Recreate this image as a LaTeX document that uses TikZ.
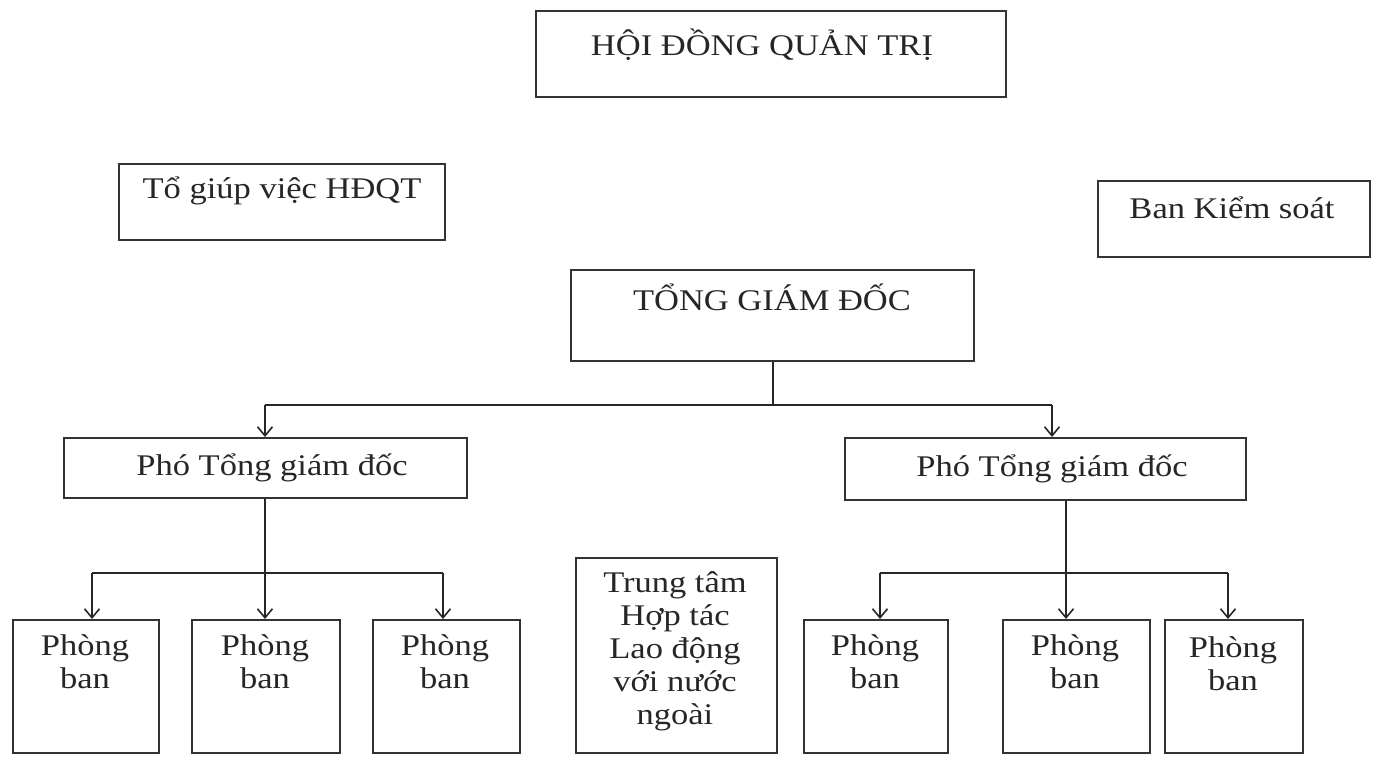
\documentclass[tikz,border=0pt]{standalone}
\usepackage{fontspec}
\setmainfont{Liberation Serif}[FakeStretch=1.15]
\usetikzlibrary{arrows.meta}
\tikzset{
  hop/.style={draw=black!80, line width=2.4pt, anchor=north west, inner sep=0pt},
  chu/.style={inner sep=0pt, font=\fontsize{30}{33}\selectfont, align=center, anchor=base},
  muiten/.style={-{Straight Barb[length=9pt,width=15pt,line width=1.6pt]}}
}
\begin{document}
\begin{tikzpicture}[x=1pt,y=-1pt,line width=2pt,black!85]
\useasboundingbox (0,0) rectangle (1379,758);
%cac hop
  \node[hop,minimum width=470pt,minimum height=86pt] (hdqt) at (535,10) {};
  \node[hop,minimum width=326pt,minimum height=76pt] (togiup) at (118,163) {};
  \node[hop,minimum width=272pt,minimum height=76pt] (bks) at (1097,180) {};
  \node[hop,minimum width=403pt,minimum height=91pt] (tgd) at (570,269) {};
  \node[hop,minimum width=403pt,minimum height=60pt] (ptgd1) at (63,437) {};
  \node[hop,minimum width=401pt,minimum height=62pt] (ptgd2) at (844,437) {};

  \node[hop,minimum width=146pt,minimum height=133pt] (pb1) at (12,619) {};
  \node[hop,minimum width=148pt,minimum height=133pt] (pb2) at (191,619) {};
  \node[hop,minimum width=147pt,minimum height=133pt] (pb3) at (372,619) {};
  \node[hop,minimum width=201pt,minimum height=195pt] (ttld) at (575,557) {};
  \node[hop,minimum width=144pt,minimum height=133pt] (pb4) at (803,619) {};
  \node[hop,minimum width=147pt,minimum height=133pt] (pb5) at (1002,619) {};
  \node[hop,minimum width=138pt,minimum height=133pt] (pb6) at (1164,619) {};

%chu
  \node[chu] (hdqt-t) at (762,55) {HỘI ĐỒNG QUẢN TRỊ};
  \node[chu] (togiup-t) at (282,198) {Tổ giúp việc HĐQT};
  \node[chu] (bks-t) at (1232,218) {Ban Kiểm soát};
  \node[chu] (tgd-t) at (772,310) {TỔNG GIÁM ĐỐC};
  \node[chu] (ptgd1-t) at (272,475) {Phó Tổng giám đốc};
  \node[chu] (ptgd2-t) at (1052,476) {Phó Tổng giám đốc};

  \node[chu] (pb1-t) at (85,688) {Phòng\\ban};
  \node[chu] (pb2-t) at (265,688) {Phòng\\ban};
  \node[chu] (pb3-t) at (445,688) {Phòng\\ban};
  \node[chu] (ttld-t) at (675,724) {Trung tâm\\Hợp tác\\Lao động\\với nước\\ngoài};
  \node[chu] (pb4-t) at (875,688) {Phòng\\ban};
  \node[chu] (pb5-t) at (1075,688) {Phòng\\ban};
  \node[chu] (pb6-t) at (1233,690) {Phòng\\ban};

%duong noi
  \coordinate (re1) at (771,405);
  \coordinate (re1a) at (265,405);
  \coordinate (re1b) at (1052,405);
  \draw (tgd.south) -- (tgd.south |- re1);
  \draw (re1a) -- (re1b);
  \draw[muiten] (re1a) -- (re1a |- ptgd1.north);
  \draw[muiten] (re1b) -- (re1b |- ptgd2.north);

  \coordinate (re2) at (265,573);
  \coordinate (re2a) at (92,573);
  \coordinate (re2b) at (443,573);
  \draw[muiten] (ptgd1.south -| re2) -- (re2 |- pb2.north);
  \draw (re2a) -- (re2b);
  \draw[muiten] (re2a) -- (re2a |- pb1.north);
  \draw[muiten] (re2b) -- (re2b |- pb3.north);

  \coordinate (re3) at (1066,573);
  \coordinate (re3a) at (880,573);
  \coordinate (re3b) at (1228,573);
  \draw[muiten] (ptgd2.south -| re3) -- (re3 |- pb5.north);
  \draw (re3a) -- (re3b);
  \draw[muiten] (re3a) -- (re3a |- pb4.north);
  \draw[muiten] (re3b) -- (re3b |- pb6.north);
\end{tikzpicture}
\end{document}
